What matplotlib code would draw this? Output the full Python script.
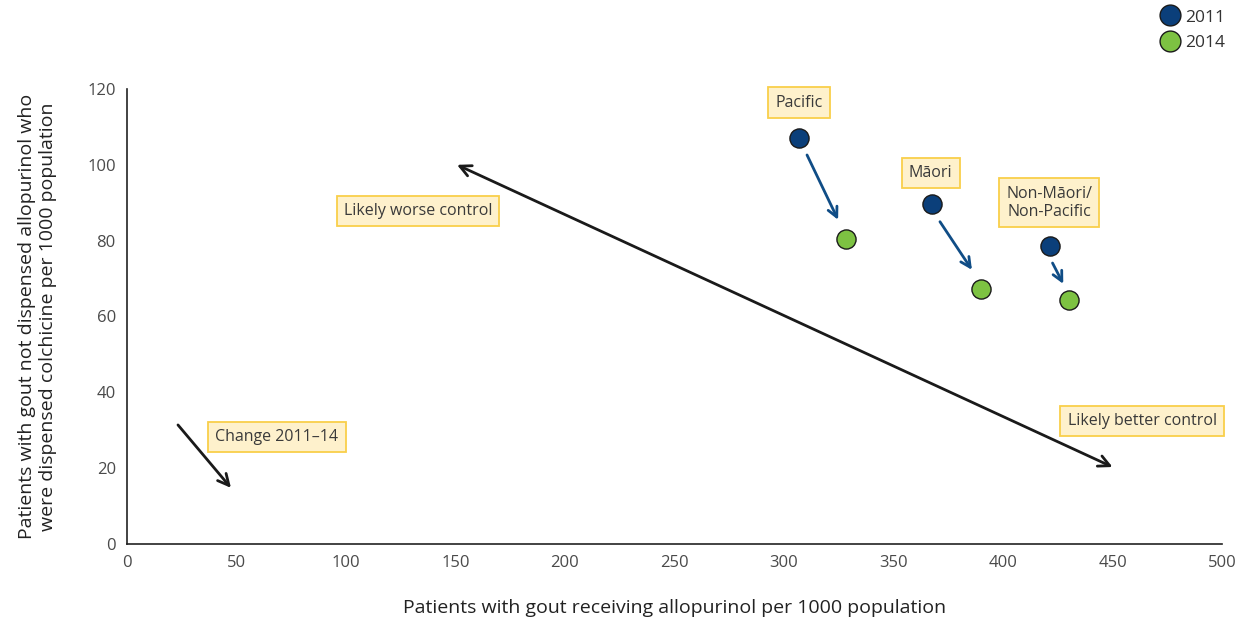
import matplotlib
matplotlib.use("Agg")
import matplotlib.pyplot as plt
from matplotlib.lines import Line2D

plt.rcParams['font.family'] = ['Open Sans', 'DejaVu Sans']

groups = ["Pacific", "Māori", "Non-Māori/\nNon-Pacific"]
x2011 = [306.8, 367.6, 421.5]
y2011 = [107.1, 89.7, 78.6]
x2014 = [328.3, 390.0, 430.1]
y2014 = [80.5, 67.3, 64.4]
# group change arrows (start/end in data)
arr_start = [(310.5, 102.6), (371.2, 85.0), (422.6, 74.1)]
arr_end = [(324.7, 85.5), (385.8, 72.3), (427.5, 68.6)]
label_pos = [(306.8, 116.4), (367.0, 97.9), (421.0, 90.0)]

xticks = [0, 50, 100, 150, 200, 250, 300, 350, 400, 450, 500]
yticks = [0, 20, 40, 60, 80, 100, 120]

blue = "#0B3F7A"
green = "#7DC242"
arrow_blue = "#104D86"
box = dict(boxstyle="square,pad=0.45", fc="#FEF1CC", ec="#F9CF4A", lw=1.3)

fig = plt.figure(figsize=(12.47, 6.21), dpi=100)
ax = fig.add_axes([0.1018, 0.124, 0.8782, 0.7327])
ax.set_xlim(0, 500)
ax.set_ylim(0, 120)

ax.scatter(x2011, y2011, s=190, color=blue, edgecolor="#1a1a1a", lw=1.0, zorder=5)
ax.scatter(x2014, y2014, s=190, color=green, edgecolor="#1a1a1a", lw=1.0, zorder=5)

for (sx, sy), (ex, ey) in zip(arr_start, arr_end):
    ax.annotate("", xy=(ex, ey), xytext=(sx, sy),
                arrowprops=dict(arrowstyle="->,head_length=0.7,head_width=0.35",
                                color=arrow_blue, lw=2.0, shrinkA=0, shrinkB=0))

for g, (lx, ly) in zip(groups, label_pos):
    ax.text(lx, ly, g, ha="center", va="center", fontsize=11.5, color="#3a3a3a",
            bbox=box, zorder=6)

# big double arrow
ax.annotate("", xy=(450, 20.3), xytext=(150.7, 100),
            arrowprops=dict(arrowstyle="<->,head_length=0.8,head_width=0.4",
                            color="#1a1a1a", lw=2.0, shrinkA=0, shrinkB=0))
# change arrow
ax.annotate("", xy=(47.5, 14.8), xytext=(23.3, 31.4),
            arrowprops=dict(arrowstyle="->,head_length=0.8,head_width=0.4",
                            color="#1a1a1a", lw=2.0, shrinkA=0, shrinkB=0))

ax.text(132.9, 87.9, "Likely worse control", ha="center", va="center",
        fontsize=11.5, color="#3a3a3a", bbox=box)
ax.text(463.5, 32.5, "Likely better control", ha="center", va="center",
        fontsize=11.5, color="#3a3a3a", bbox=box)
ax.text(68.5, 28.2, "Change 2011–14", ha="center", va="center",
        fontsize=11.5, color="#3a3a3a", bbox=box)

ax.set_xticks(xticks)
ax.set_yticks(yticks)
ax.tick_params(length=0, labelsize=12, labelcolor="#4a4a4a", pad=8)
for s in ["top", "right"]:
    ax.spines[s].set_visible(False)
for s in ["left", "bottom"]:
    ax.spines[s].set_color("#222222")
    ax.spines[s].set_linewidth(1.2)

ax.set_xlabel("Patients with gout receiving allopurinol per 1000 population",
              fontsize=14, color="#222222", labelpad=20)
ax.set_ylabel("Patients with gout not dispensed allopurinol who\nwere dispensed colchicine per 1000 population",
              fontsize=14, color="#222222", labelpad=22)

handles = [Line2D([], [], marker="o", ls="", markersize=15, markerfacecolor=blue,
                  markeredgecolor="#1a1a1a", label="2011"),
           Line2D([], [], marker="o", ls="", markersize=15, markerfacecolor=green,
                  markeredgecolor="#1a1a1a", label="2014")]
fig.legend(handles=handles, loc="upper right", bbox_to_anchor=(0.995, 1.01),
           frameon=False, fontsize=12.5, handletextpad=0.3, labelspacing=0.55,
           handlelength=1.2, labelcolor="#333333")

fig.savefig("out.png", dpi=100)
